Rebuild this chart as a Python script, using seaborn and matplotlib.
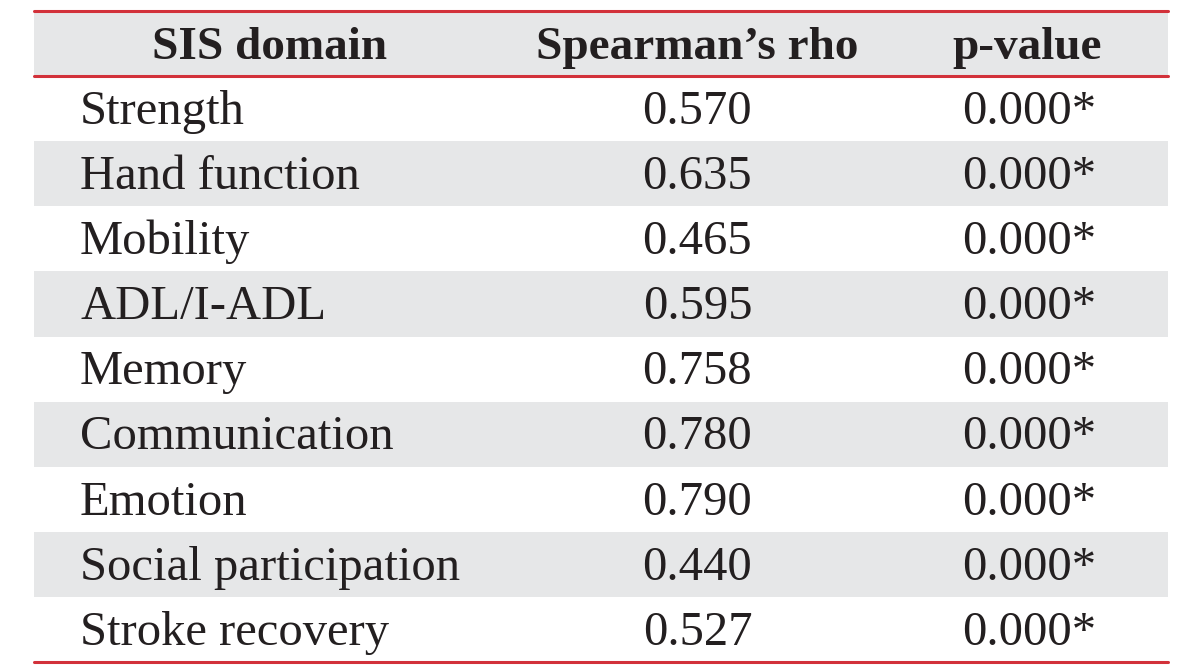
import matplotlib
matplotlib.use("Agg")
import matplotlib.pyplot as plt
from matplotlib.colors import ListedColormap
import seaborn as sns
import numpy as np

# table data
domains = ["Strength", "Hand function", "Mobility", "ADL/I-ADL", "Memory",
           "Communication", "Emotion", "Social participation", "Stroke recovery"]
rho = [0.570, 0.635, 0.465, 0.595, 0.758, 0.780, 0.790, 0.440, 0.527]
p_values = ["0.000*"] * 9
headers = ["SIS domain", "Spearman\u2019s rho", "p-value"]

sns.set_theme(style="white")
plt.rcParams["font.family"] = ["Liberation Serif", "DejaVu Serif"]

fig = plt.figure(figsize=(12, 6.72), dpi=100)
ax = fig.add_axes([34 / 1200, 10 / 672, 1134 / 1200, 651 / 672])

# row banding: header + alternating stripes
band = np.array([[1]] + [[i % 2] for i in range(len(domains))])
sns.heatmap(band, ax=ax, cmap=ListedColormap(["white", "#e6e7e8"]), cbar=False,
            xticklabels=False, yticklabels=False, vmin=0, vmax=1)

red = "#d2313a"
for y in [0, 1, len(domains) + 1]:
    ax.axhline(y, color=red, lw=2.2, clip_on=False)

fs = 35
tc = "#231f20"
hx = [0.208, 0.585, 0.876]
for x, h in zip(hx, headers):
    ax.text(x, 0.73, h, ha="center", va="baseline", fontsize=34, fontweight="bold",
            color=tc)

for i, (d, r, p) in enumerate(zip(domains, rho, p_values)):
    y = i + 1.735
    ax.text(0.0406, y, d, ha="left", va="baseline", fontsize=fs, color=tc)
    ax.text(0.585, y, f"{r:.3f}", ha="center", va="baseline", fontsize=fs, color=tc)
    ax.text(0.878, y, p, ha="center", va="baseline", fontsize=fs, color=tc)

ax.set_xlabel("")
ax.set_ylabel("")
for s in ax.spines.values():
    s.set_visible(False)

fig.savefig("out.png", dpi=100)
